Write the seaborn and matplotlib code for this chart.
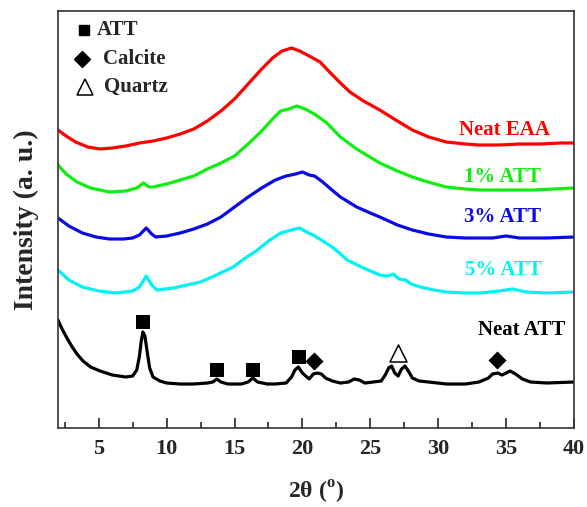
import matplotlib
matplotlib.use('Agg')
import matplotlib.pyplot as plt
import seaborn as sns
from matplotlib.ticker import MultipleLocator

# XRD patterns, intensity (arbitrary units, offset per curve)
eaa_t = [2.0, 2.6, 3.3, 4.2, 5.1, 6.0, 7.0, 8.0, 9.0, 10.0, 11.0, 12.0, 13.0, 14.0, 15.0, 16.0,
         17.0, 17.8, 18.5, 19.2, 19.8, 20.5, 21.3, 22.0, 22.8, 23.5, 24.5, 25.7, 27.0, 28.1, 29.3,
         30.6, 32.0, 33.0, 34.5, 36.0, 37.5, 39.0, 40.0]
eaa_i = [298, 292, 286, 281, 279, 280, 282, 285, 287, 290, 294, 299, 307, 317, 329, 344,
         359, 370, 377, 380, 377, 372, 366, 356, 345, 336, 327, 318, 307, 298, 291,
         286, 284, 283, 283, 284, 284, 285, 285]

att1_t = [2.0, 2.6, 3.4, 4.4, 5.8, 7.0, 7.8, 8.3, 8.7, 9.0, 10.0, 11.0, 12.0, 13.0, 14.0, 15.0,
          16.0, 17.0, 17.8, 18.4, 19.0, 19.6, 20.2, 21.0, 21.8, 22.8, 24.0, 25.7, 27.0, 28.1, 29.5,
          30.6, 32.0, 33.0, 35.0, 37.0, 40.0]
att1_i = [263, 254, 246, 240, 236, 237, 240, 245, 241, 241, 244, 248, 252, 259, 265, 272,
          284, 297, 309, 317, 319, 322, 319, 313, 305, 291, 279, 265, 257, 251, 245,
          241, 239, 238, 238, 238, 240]

att3_t = [2.0, 2.8, 3.8, 4.8, 5.8, 6.8, 7.5, 8.0, 8.5, 8.9, 9.2, 10.0, 11.0, 12.0, 13.0, 14.0,
          15.0, 16.0, 17.0, 18.0, 18.8, 19.5, 20.0, 20.5, 20.9, 21.5, 22.0, 22.8, 24.0, 25.0, 25.7,
          27.0, 28.1, 29.3, 30.6, 32.0, 34.0, 35.0, 36.0, 38.0, 40.0]
att3_i = [210, 202, 195, 191, 189, 189, 190, 193, 200, 194, 191, 192, 195, 199, 204, 211,
          221, 231, 240, 248, 252, 254, 256, 253, 252, 246, 240, 231, 221, 215, 211,
          203, 198, 194, 191, 190, 190, 192, 190, 190, 191]

att5_t = [2.0, 2.8, 3.8, 5.0, 6.3, 7.5, 8.0, 8.5, 8.9, 9.3, 10.5, 11.5, 12.5, 13.5, 14.9, 15.8,
          16.7, 17.5, 18.4, 19.2, 19.8, 20.3, 20.8, 21.5, 22.3, 23.3, 24.5, 25.7, 26.3, 26.7, 27.1,
          27.6, 28.0, 28.7, 29.7, 30.6, 32.0, 33.1, 34.5, 35.5, 36.5, 38.0, 40.0]
att5_i = [158, 148, 141, 137, 135, 137, 141, 152, 143, 138, 140, 143, 146, 152, 161, 170,
          178, 187, 195, 198, 200, 196, 193, 187, 180, 168, 160, 153, 152, 154, 149,
          148, 144, 141, 138, 136, 135, 135, 137, 139, 136, 135, 136]

neat_t = [2.0, 2.3, 2.66, 3.0, 3.4, 3.84, 4.4, 5.1, 6.0, 7.0, 7.5, 7.8, 8.0, 8.12, 8.25, 8.4,
          8.55, 8.75, 9.0, 9.5, 10.0, 11.0, 12.0, 13.0, 13.4, 13.7, 14.0, 14.5, 15.5, 16.0, 16.35,
          16.7, 17.4, 18.0, 18.8, 19.2, 19.45, 19.7, 20.0, 20.5, 20.8, 21.1, 21.4, 21.7, 22.2, 22.8,
          23.4, 23.8, 24.2, 24.6, 25.2, 25.8, 26.1, 26.35, 26.57, 26.8, 27.05, 27.3, 27.55, 27.8,
          28.1, 28.6, 29.3, 30.6, 32.0, 33.0, 33.7, 34.0, 34.4, 34.7, 35.0, 35.3, 35.7, 36.2,
          36.8, 38.0, 40.0]
neat_i = [108, 99, 90, 82, 74, 67, 61, 57, 53, 51, 52, 58, 72, 86, 96, 92,
          78, 60, 51, 47, 45, 44, 44, 45, 46, 49, 46, 44, 44, 46, 50,
          46, 44, 44, 45, 51, 58, 61, 55, 49, 54, 55, 54, 50, 47, 45,
          46, 49, 48, 45, 46, 47, 53, 60, 62, 55, 52, 59, 62, 57,
          50, 47, 46, 44, 44, 46, 50, 54, 55, 53, 55, 57, 54, 49,
          46, 45, 46]

# phase markers above the Neat ATT peaks
att_peak_t = [8.28, 13.69, 16.33, 19.75]
att_peak_i = [106, 58, 58, 71]
calcite_peak_t = [20.87, 34.35]
calcite_peak_i = [67, 68]
quartz_peak_t = [27.06]
quartz_peak_i = [75]

curves = [
    (eaa_t, eaa_i, '#ff0000', 'Neat EAA', 38.25, 298),
    (att1_t, att1_i, '#10ee10', '1% ATT', 37.55, 251),
    (att3_t, att3_i, '#0a0ae6', '3% ATT', 37.55, 211),
    (att5_t, att5_i, '#00f2f2', '5% ATT', 37.65, 158),
    (neat_t, neat_i, '#000000', 'Neat ATT', 39.35, 98),
]

sns.set_style("ticks")
plt.rcParams['font.family'] = ['Liberation Serif', 'DejaVu Serif']
plt.rcParams['font.weight'] = 'bold'
plt.rcParams['mathtext.fontset'] = 'custom'
plt.rcParams['mathtext.rm'] = 'Liberation Serif:bold'
plt.rcParams['mathtext.bf'] = 'Liberation Serif:bold'

fig = plt.figure(figsize=(5.87, 5.07), dpi=100)
ax = fig.add_axes([0.0988, 0.1558, 0.879, 0.8225])

for t, i, c, name, lx, ly in curves:
    sns.lineplot(x=t, y=i, ax=ax, color=c, linewidth=2.3)
    ax.text(lx, ly, name, color=c, fontsize=15, fontweight='bold', ha='right', va='center')

sns.scatterplot(x=att_peak_t, y=att_peak_i, ax=ax, marker='s', color='black', s=95, linewidth=0)
sns.scatterplot(x=calcite_peak_t, y=calcite_peak_i, ax=ax, marker='D', color='black', s=85, linewidth=0)
sns.scatterplot(x=quartz_peak_t, y=quartz_peak_i, ax=ax, marker='^', facecolor='white',
                edgecolor='black', s=150, linewidth=1.1)

# symbol key, top left
ax.plot([0.050], [0.954], 's', color='black', markersize=7, transform=ax.transAxes)
ax.text(0.076, 0.954, 'ATT', fontsize=15, fontweight='bold', va='center', transform=ax.transAxes)
ax.plot([0.047], [0.885], 'D', color='black', markersize=8.5, transform=ax.transAxes)
ax.text(0.087, 0.885, 'Calcite', fontsize=15, fontweight='bold', va='center', transform=ax.transAxes)
ax.plot([0.052], [0.818], '^', markerfacecolor='white', markeredgecolor='black', markersize=12,
        markeredgewidth=1.1, transform=ax.transAxes)
ax.text(0.089, 0.818, 'Quartz', fontsize=15, fontweight='bold', va='center', transform=ax.transAxes)

ax.set_xlim(2, 40)
ax.set_ylim(0, 417)
ax.set_yticks([])
ax.xaxis.set_major_locator(MultipleLocator(5))
ax.xaxis.set_minor_locator(MultipleLocator(2.5))
ax.tick_params(axis='x', which='major', direction='in', length=7, width=1.2, labelsize=16, pad=8,
               top=False)
ax.tick_params(axis='x', which='minor', direction='in', length=4, width=1.2, top=False)
for s in ax.spines.values():
    s.set_visible(True)
    s.set_linewidth(1.2)
    s.set_color('#333333')

ax.set_xlabel('2θ ($^{\\rm o}$)', fontsize=17, fontweight='bold')
ax.set_ylabel('Intensity (a. u.)', fontsize=20, fontweight='bold')
ax.xaxis.set_label_coords(0.5, -0.122)
ax.yaxis.set_label_coords(-0.037, 0.5)

fig.savefig('out.png', dpi=100)
